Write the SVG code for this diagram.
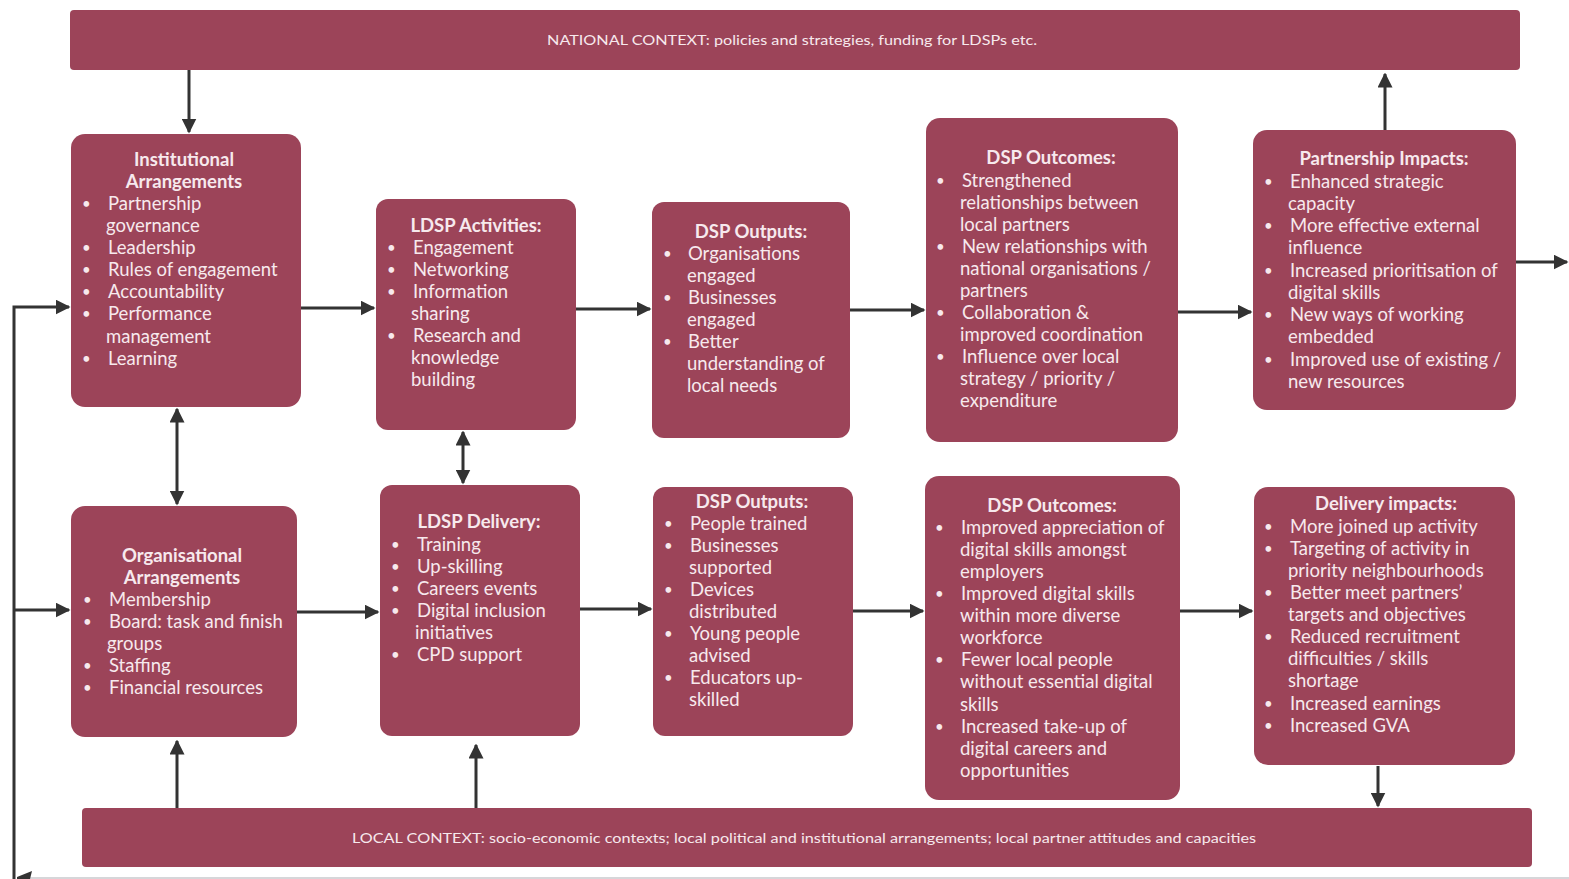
<svg xmlns="http://www.w3.org/2000/svg" width="1569" height="879" viewBox="0 0 1569 879">
<defs>
<style>
.box{fill:#9c4459;}
.t{font-family:Lato,"Liberation Sans",sans-serif;font-size:18.5px;fill:#f7e9ed;}
.h{font-weight:bold;text-anchor:middle;}
.b{font-size:15px;}
.bar{font-family:Lato,"Liberation Sans",sans-serif;font-size:14px;fill:#f7e9ed;text-anchor:middle;}
.c{stroke:#333;stroke-width:3;fill:none;}
</style>
<marker id="ah" viewBox="0 0 10 10" refX="9" refY="5" markerWidth="5" markerHeight="5" orient="auto-start-reverse" markerUnits="strokeWidth">
<path d="M0,0 L10,5 L0,10 z" fill="#333"/>
</marker>
</defs>
<rect width="1569" height="879" fill="#ffffff"/>

<g id="connectors">
<line class="c" x1="189" y1="70" x2="189" y2="132" marker-end="url(#ah)"/>
<line class="c" x1="1385" y1="130" x2="1385" y2="74" marker-end="url(#ah)"/>
<line class="c" x1="1516" y1="262" x2="1567" y2="262" marker-end="url(#ah)"/>
<line class="c" x1="301" y1="308" x2="374" y2="308" marker-end="url(#ah)"/>
<line class="c" x1="576" y1="309" x2="650" y2="309" marker-end="url(#ah)"/>
<line class="c" x1="850" y1="310" x2="924" y2="310" marker-end="url(#ah)"/>
<line class="c" x1="1178" y1="312" x2="1251" y2="312" marker-end="url(#ah)"/>
<line class="c" x1="177" y1="409" x2="177" y2="504" marker-start="url(#ah)" marker-end="url(#ah)"/>
<line class="c" x1="463" y1="432" x2="463" y2="483" marker-start="url(#ah)" marker-end="url(#ah)"/>
<line class="c" x1="297" y1="612" x2="378" y2="612" marker-end="url(#ah)"/>
<line class="c" x1="580" y1="609" x2="651" y2="609" marker-end="url(#ah)"/>
<line class="c" x1="853" y1="611" x2="923" y2="611" marker-end="url(#ah)"/>
<line class="c" x1="1180" y1="611" x2="1252" y2="611" marker-end="url(#ah)"/>
<line class="c" x1="177" y1="808" x2="177" y2="741" marker-end="url(#ah)"/>
<line class="c" x1="476" y1="808" x2="476" y2="745" marker-end="url(#ah)"/>
<line class="c" x1="1378" y1="766" x2="1378" y2="806" marker-end="url(#ah)"/>
<polyline class="c" points="14,879 14,307 69,307" marker-end="url(#ah)"/>
<line class="c" x1="14" y1="610" x2="69" y2="610" marker-end="url(#ah)"/>
<line x1="28" y1="878" x2="1569" y2="878" stroke="#c8c8cc" stroke-width="1.5"/>
<path d="M17,877 L32,871 L30,879 L17,879 z" fill="#333"/>
</g>

<g id="national">
<rect class="box" x="70" y="10" width="1450" height="60" rx="4"/>
<text class="bar" x="792" y="45" textLength="490" lengthAdjust="spacingAndGlyphs">NATIONAL CONTEXT:  policies and strategies, funding for LDSPs etc.</text>
</g>

<g id="local">
<rect class="box" x="82" y="808" width="1450" height="59" rx="4"/>
<text class="bar" x="804" y="843" textLength="904" lengthAdjust="spacingAndGlyphs">LOCAL CONTEXT: socio-economic contexts; local political and institutional arrangements; local partner attitudes and capacities</text>
</g>

<g id="institutional">
<rect class="box" x="71" y="134" width="230" height="273" rx="14"/>
<text class="t h" x="184" y="166">Institutional</text>
<text class="t h" x="184" y="188">Arrangements</text>
<text class="t b"><tspan x="82" y="209">•</tspan><tspan x="82" y="253">•</tspan><tspan x="82" y="275">•</tspan><tspan x="82" y="297">•</tspan><tspan x="82" y="319">•</tspan><tspan x="82" y="364">•</tspan></text>
<text class="t"><tspan x="108" y="210">Partnership</tspan><tspan x="106" y="232">governance</tspan><tspan x="108" y="254">Leadership</tspan><tspan x="108" y="276">Rules of engagement</tspan><tspan x="108" y="298">Accountability</tspan><tspan x="108" y="320">Performance</tspan><tspan x="106" y="343">management</tspan><tspan x="108" y="365">Learning</tspan></text>
</g>

<g id="activities">
<rect class="box" x="376" y="199" width="200" height="231" rx="12"/>
<text class="t h" x="476" y="232">LDSP Activities:</text>
<text class="t b"><tspan x="387" y="253">•</tspan><tspan x="387" y="275">•</tspan><tspan x="387" y="297">•</tspan><tspan x="387" y="341">•</tspan></text>
<text class="t"><tspan x="413" y="254">Engagement</tspan><tspan x="413" y="276">Networking</tspan><tspan x="413" y="298">Information</tspan><tspan x="411" y="320">sharing</tspan><tspan x="413" y="342">Research and</tspan><tspan x="411" y="364">knowledge</tspan><tspan x="411" y="386">building</tspan></text>
</g>

<g id="outputs-top">
<rect class="box" x="652" y="202" width="198" height="236" rx="12"/>
<text class="t h" x="751" y="238">DSP Outputs:</text>
<text class="t b"><tspan x="663" y="259">•</tspan><tspan x="663" y="303">•</tspan><tspan x="663" y="347">•</tspan></text>
<text class="t"><tspan x="688" y="260">Organisations</tspan><tspan x="687" y="282">engaged</tspan><tspan x="688" y="304">Businesses</tspan><tspan x="687" y="326">engaged</tspan><tspan x="688" y="348">Better</tspan><tspan x="687" y="370">understanding of</tspan><tspan x="687" y="392">local needs</tspan></text>
</g>

<g id="outcomes-top">
<rect class="box" x="926" y="118" width="252" height="324" rx="14"/>
<text class="t h" x="1051" y="164">DSP Outcomes:</text>
<text class="t b"><tspan x="936" y="186">•</tspan><tspan x="936" y="252">•</tspan><tspan x="936" y="318">•</tspan><tspan x="936" y="362">•</tspan></text>
<text class="t"><tspan x="962" y="187">Strengthened</tspan><tspan x="960" y="209">relationships between</tspan><tspan x="960" y="231">local partners</tspan><tspan x="962" y="253">New relationships with</tspan><tspan x="960" y="275">national organisations /</tspan><tspan x="960" y="297">partners</tspan><tspan x="962" y="319">Collaboration &amp;</tspan><tspan x="960" y="341">improved coordination</tspan><tspan x="962" y="363">Influence over local</tspan><tspan x="960" y="385">strategy / priority /</tspan><tspan x="960" y="407">expenditure</tspan></text>
</g>

<g id="partnership-impacts">
<rect class="box" x="1253" y="130" width="263" height="280" rx="14"/>
<text class="t h" x="1384" y="165">Partnership Impacts:</text>
<text class="t b"><tspan x="1264" y="187">•</tspan><tspan x="1264" y="231">•</tspan><tspan x="1264" y="276">•</tspan><tspan x="1264" y="320">•</tspan><tspan x="1264" y="365">•</tspan></text>
<text class="t"><tspan x="1290" y="188">Enhanced strategic</tspan><tspan x="1288" y="210">capacity</tspan><tspan x="1290" y="232">More effective external</tspan><tspan x="1288" y="254">influence</tspan><tspan x="1290" y="277">Increased prioritisation of</tspan><tspan x="1288" y="299">digital skills</tspan><tspan x="1290" y="321">New ways of working</tspan><tspan x="1288" y="343">embedded</tspan><tspan x="1290" y="366">Improved use of existing /</tspan><tspan x="1288" y="388">new resources</tspan></text>
</g>

<g id="organisational">
<rect class="box" x="71" y="506" width="226" height="231" rx="14"/>
<text class="t h" x="182" y="562">Organisational</text>
<text class="t h" x="182" y="584">Arrangements</text>
<text class="t b"><tspan x="83" y="605">•</tspan><tspan x="83" y="627">•</tspan><tspan x="83" y="671">•</tspan><tspan x="83" y="693">•</tspan></text>
<text class="t"><tspan x="109" y="606">Membership</tspan><tspan x="109" y="628">Board: task and finish</tspan><tspan x="107" y="650">groups</tspan><tspan x="109" y="672">Staffing</tspan><tspan x="109" y="694">Financial resources</tspan></text>
</g>

<g id="delivery">
<rect class="box" x="380" y="485" width="200" height="251" rx="12"/>
<text class="t h" x="479" y="528">LDSP Delivery:</text>
<text class="t b"><tspan x="391" y="550">•</tspan><tspan x="391" y="572">•</tspan><tspan x="391" y="594">•</tspan><tspan x="391" y="616">•</tspan><tspan x="391" y="660">•</tspan></text>
<text class="t"><tspan x="417" y="551">Training</tspan><tspan x="417" y="573">Up-skilling</tspan><tspan x="417" y="595">Careers events</tspan><tspan x="417" y="617">Digital inclusion</tspan><tspan x="415" y="639">initiatives</tspan><tspan x="417" y="661">CPD support</tspan></text>
</g>

<g id="outputs-bottom">
<rect class="box" x="653" y="487" width="200" height="249" rx="12"/>
<text class="t h" x="752" y="508">DSP Outputs:</text>
<text class="t b"><tspan x="664" y="529">•</tspan><tspan x="664" y="551">•</tspan><tspan x="664" y="595">•</tspan><tspan x="664" y="639">•</tspan><tspan x="664" y="683">•</tspan></text>
<text class="t"><tspan x="690" y="530">People trained</tspan><tspan x="690" y="552">Businesses</tspan><tspan x="689" y="574">supported</tspan><tspan x="690" y="596">Devices</tspan><tspan x="689" y="618">distributed</tspan><tspan x="690" y="640">Young people</tspan><tspan x="689" y="662">advised</tspan><tspan x="690" y="684">Educators up-</tspan><tspan x="689" y="706">skilled</tspan></text>
</g>

<g id="outcomes-bottom">
<rect class="box" x="925" y="476" width="255" height="324" rx="14"/>
<text class="t h" x="1052" y="512">DSP Outcomes:</text>
<text class="t b"><tspan x="935" y="533">•</tspan><tspan x="935" y="599">•</tspan><tspan x="935" y="665">•</tspan><tspan x="935" y="732">•</tspan></text>
<text class="t"><tspan x="961" y="534">Improved appreciation of</tspan><tspan x="960" y="556">digital skills amongst</tspan><tspan x="960" y="578">employers</tspan><tspan x="961" y="600">Improved digital skills</tspan><tspan x="960" y="622">within more diverse</tspan><tspan x="960" y="644">workforce</tspan><tspan x="961" y="666">Fewer local people</tspan><tspan x="960" y="688">without essential digital</tspan><tspan x="960" y="711">skills</tspan><tspan x="961" y="733">Increased take-up of</tspan><tspan x="960" y="755">digital careers and</tspan><tspan x="960" y="777">opportunities</tspan></text>
</g>

<g id="delivery-impacts">
<rect class="box" x="1254" y="487" width="261" height="278" rx="14"/>
<text class="t h" x="1386" y="510">Delivery impacts:</text>
<text class="t b"><tspan x="1264" y="532">•</tspan><tspan x="1264" y="554">•</tspan><tspan x="1264" y="598">•</tspan><tspan x="1264" y="642">•</tspan><tspan x="1264" y="709">•</tspan><tspan x="1264" y="731">•</tspan></text>
<text class="t"><tspan x="1290" y="533">More joined up activity</tspan><tspan x="1290" y="555">Targeting of activity in</tspan><tspan x="1288" y="577">priority neighbourhoods</tspan><tspan x="1290" y="599">Better meet partners’</tspan><tspan x="1288" y="621">targets and objectives</tspan><tspan x="1290" y="643">Reduced recruitment</tspan><tspan x="1288" y="665">difficulties / skills</tspan><tspan x="1288" y="687">shortage</tspan><tspan x="1290" y="710">Increased earnings</tspan><tspan x="1290" y="732">Increased GVA</tspan></text>
</g>
</svg>
